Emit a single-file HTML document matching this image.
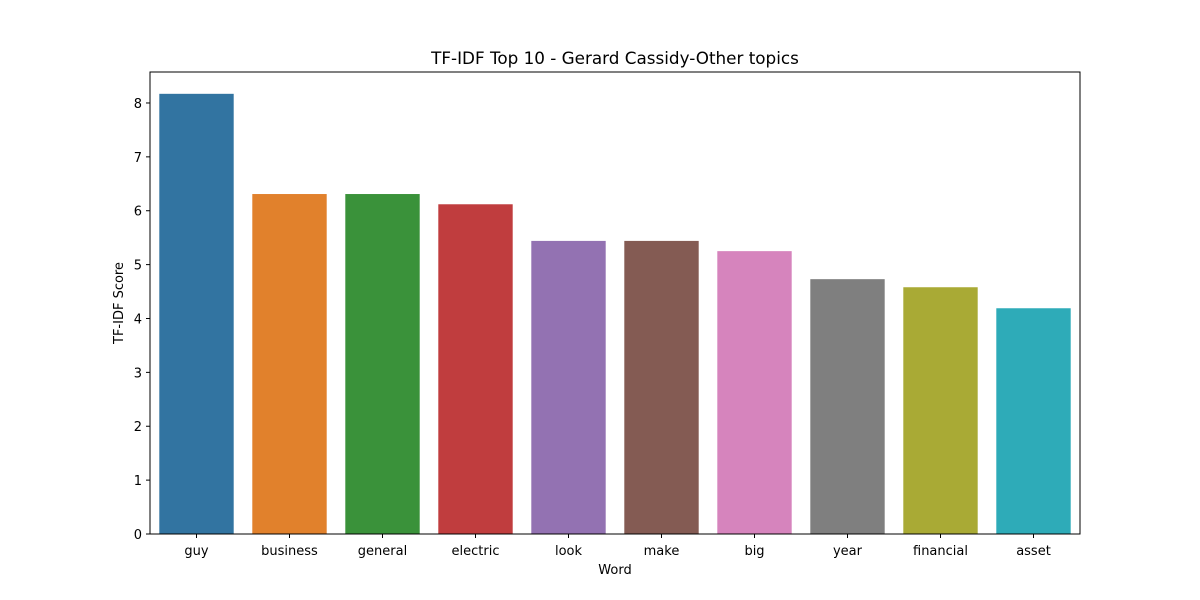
<!DOCTYPE html>
<html><head><meta charset="utf-8"><style>
body{margin:0;background:#fff;}
svg{display:block;font-family:"DejaVu Sans","Liberation Sans",sans-serif;}
</style></head><body>
<svg id="chart" width="1200" height="600">
<rect width="1200" height="600" fill="#fff"/>
</svg>
<script>
const categories=["guy","business","general","electric","look","make","big","year","financial","asset"];
const values=[8.17,6.31,6.31,6.12,5.44,5.44,5.25,4.73,4.58,4.19];
const colors=["#3274a1","#e1812c","#3a923a","#c03d3e","#9372b2","#845b53","#d684bd","#7f7f7f","#a9aa35","#2eabb8"];
const yTicks=[0,1,2,3,4,5,6,7,8];
const L=150,R=1080,T=72,B=534,yMax=8.575;
const ns="http://www.w3.org/2000/svg";
const svg=document.getElementById('chart');
const y=v=>B-(v/yMax)*(B-T);
const slot=(R-L)/categories.length;
const x=i=>L+slot*i+slot/2;
function mk(t,a,txt){const e=document.createElementNS(ns,t);for(const k in a)e.setAttribute(k,a[k]);if(txt!==undefined)e.textContent=txt;svg.appendChild(e);return e;}
categories.forEach((c,i)=>{
 const r=mk('rect',{x:x(i)-slot*0.4,y:y(values[i]),width:slot*0.8,height:B-y(values[i]),fill:colors[i]});
 
 
 const tk=mk('line',{x1:x(i),x2:x(i),y1:B,y2:B+4,stroke:'#000'});
 
 
 const t=mk('text',{x:x(i),y:B+21,'text-anchor':'middle','font-size':13},c);
 
 
});
yTicks.forEach(v=>{
 const tk=mk('line',{x1:L-4,x2:L,y1:y(v),y2:y(v),stroke:'#000'});
 
 
 const t=mk('text',{x:L-8,y:y(v)+5,'text-anchor':'end','font-size':13},v);
 
 
});
const f=mk('rect',{x:L,y:T,width:R-L,height:B-T,fill:'none',stroke:'#000','stroke-width':1});


const ti=mk('text',{x:(L+R)/2,y:64,'text-anchor':'middle','font-size':16.8},'TF-IDF Top 10 - Gerard Cassidy-Other topics');


const xt=mk('text',{x:(L+R)/2,y:574,'text-anchor':'middle','font-size':13},'Word');


const yt=mk('text',{x:0,y:0,'text-anchor':'middle','font-size':13,transform:'translate(123,303) rotate(-90)'},'TF-IDF Score');


</script>
</body></html>
